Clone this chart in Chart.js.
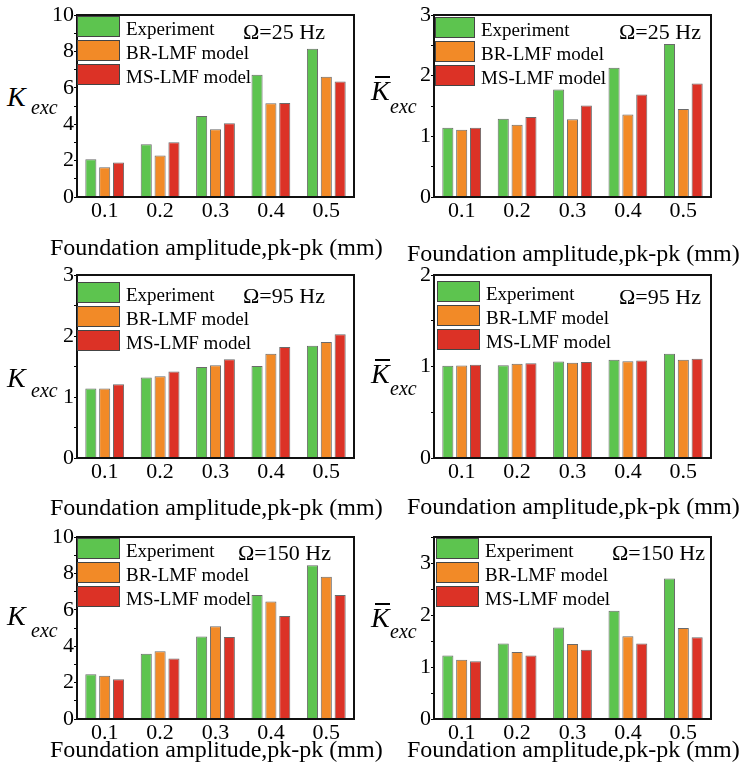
<!DOCTYPE html>
<html>
<head>
<meta charset="utf-8">
<script src="https://cdn.jsdelivr.net/npm/chart.js@4.4.1/dist/chart.umd.min.js"></script>
<style>
  html, body { margin: 0; padding: 0; background: #fff; }
  #figure { position: relative; width: 743px; height: 764px; overflow: hidden;
            font-family: 'Liberation Serif', 'Times New Roman', serif; color: #000; }
  .panel { position: absolute; }
  .lbl { position: absolute; line-height: 0; white-space: nowrap; }
  .xt { font-size: 24px; }
  .ky { font-size: 28px; font-style: italic; }
  .sub { font-size: 20px; font-style: italic; }
  .ovl { position: absolute; height: 1.5px; background: #000; }
</style>
</head>
<body>
<div id="figure"></div>
<script>
// amplitude groups on the x axis
const amplitudes = ['0.1', '0.2', '0.3', '0.4', '0.5'];
const seriesNames = ['Experiment', 'BR-LMF model', 'MS-LMF model'];

// K_exc and normalised K_exc, 25 Hz
const k25Exp = [2.08, 2.90, 4.45, 6.72, 8.14];
const k25BR = [1.64, 2.28, 3.72, 5.15, 6.61];
const k25MS = [1.90, 3.01, 4.05, 5.16, 6.35];
const kbar25Exp = [1.14, 1.29, 1.77, 2.13, 2.52];
const kbar25BR = [1.11, 1.19, 1.28, 1.36, 1.45];
const kbar25MS = [1.14, 1.32, 1.51, 1.69, 1.87];

// 95 Hz
const k95Exp = [1.14, 1.32, 1.49, 1.51, 1.84];
const k95BR = [1.14, 1.34, 1.52, 1.71, 1.90];
const k95MS = [1.21, 1.42, 1.62, 1.82, 2.03];
const kbar95Exp = [1.007, 1.015, 1.055, 1.073, 1.139];
const kbar95BR = [1.010, 1.030, 1.040, 1.058, 1.073];
const kbar95MS = [1.018, 1.036, 1.050, 1.066, 1.084];

// 150 Hz
const k150Exp = [2.46, 3.58, 4.53, 6.81, 8.45];
const k150BR = [2.37, 3.72, 5.09, 6.46, 7.81];
const k150MS = [2.19, 3.32, 4.51, 5.66, 6.82];
const kbar150Exp = [1.22, 1.45, 1.76, 2.08, 2.70];
const kbar150BR = [1.14, 1.29, 1.44, 1.59, 1.75];
const kbar150MS = [1.11, 1.22, 1.33, 1.45, 1.57];

const barColors = ['#5dc44f', '#f28a27', '#dc3226'];
const FONT = "'Liberation Serif', 'Times New Roman', serif";

// plot boxes are [left, top, right, bottom] in page pixels
const panels = [
  { series: [k25Exp, k25BR, k25MS], freq: 'Ω=25 Hz', box: [77, 15, 354, 197],
    yMax: 10, yStep: 1, yLabelStep: 2, legend: { x: 77, y: 16, w: 43 }, freqAt: [243, 39], bar: false },
  { series: [kbar25Exp, kbar25BR, kbar25MS], freq: 'Ω=25 Hz', box: [434, 15, 711, 197],
    yMax: 3, yStep: 0.5, yLabelStep: 1, legend: { x: 435, y: 17, w: 40 }, freqAt: [619, 39], bar: true },
  { series: [k95Exp, k95BR, k95MS], freq: 'Ω=95 Hz', box: [77, 275, 354, 458],
    yMax: 3, yStep: 0.5, yLabelStep: 1, legend: { x: 77, y: 282, w: 43 }, freqAt: [243, 303], bar: false },
  { series: [kbar95Exp, kbar95BR, kbar95MS], freq: 'Ω=95 Hz', box: [434, 275, 711, 458],
    yMax: 2, yStep: 0.5, yLabelStep: 1, legend: { x: 437, y: 281, w: 43 }, freqAt: [619, 304], bar: true },
  { series: [k150Exp, k150BR, k150MS], freq: 'Ω=150 Hz', box: [77, 537, 354, 719],
    yMax: 10, yStep: 1, yLabelStep: 2, legend: { x: 77, y: 538, w: 43 }, freqAt: [238, 560], bar: false },
  { series: [kbar150Exp, kbar150BR, kbar150MS], freq: 'Ω=150 Hz', box: [434, 537, 711, 719],
    yMax: 3.5, yStep: 0.5, yLabelStep: 1, legend: { x: 436, y: 538, w: 43 }, freqAt: [612, 560], bar: true }
];

// x-axis title baselines and y-axis symbol baselines, per panel
const xTitles = [[50, 255], [407, 261], [50, 515], [407, 514], [50, 757], [407, 757]];
const yTitles = [[7, 106, 31, 114], [371, 100, 390, 113], [7, 387, 31, 397],
                 [371, 383, 390, 395], [7, 625, 31, 637], [371, 627, 390, 638]];

const PAD_L = 50, PAD_T = 16, PAD_R = 10, PAD_B = 40;
const fig = document.getElementById('figure');

// black box around the plot area plus the legend swatches and frequency tag
const framePlugin = {
  id: 'frameAndKey',
  afterDraw(chart, args, opts) {
    const { ctx, chartArea: a } = chart;
    ctx.save();
    ctx.strokeStyle = '#111';
    ctx.lineWidth = 2;
    ctx.strokeRect(a.left, a.top, a.right - a.left, a.bottom - a.top);

    const lg = opts.legend;
    ctx.font = '19px ' + FONT;
    ctx.textBaseline = 'alphabetic';
    seriesNames.forEach((name, i) => {
      const x = lg.x - opts.ox, y = lg.y - opts.oy + i * 24;
      ctx.fillStyle = barColors[i];
      ctx.fillRect(x, y, lg.w, 21);
      ctx.strokeStyle = '#444';
      ctx.lineWidth = 1;
      ctx.strokeRect(x + 0.5, y + 0.5, lg.w - 1, 20);
      ctx.fillStyle = '#000';
      ctx.fillText(name, x + lg.w + 6, y + 19);
    });

    ctx.font = '22px ' + FONT;
    ctx.fillText(opts.freq, opts.freqAt[0] - opts.ox, opts.freqAt[1] - opts.oy);
    ctx.restore();
  }
};

function addLabel(html, cls, x, baseline, size) {
  const el = document.createElement('div');
  el.className = 'lbl ' + cls;
  el.innerHTML = html;
  el.style.left = x + 'px';
  el.style.top = (baseline - 0.3375 * size) + 'px';
  fig.appendChild(el);
  return el;
}

panels.forEach((p, idx) => {
  const [l, t, r, b] = p.box;
  const ox = l - PAD_L, oy = t - PAD_T;
  const w = (r - l) + PAD_L + PAD_R, h = (b - t) + PAD_T + PAD_B;

  const wrap = document.createElement('div');
  wrap.className = 'panel';
  wrap.style.left = ox + 'px';
  wrap.style.top = oy + 'px';
  const cv = document.createElement('canvas');
  cv.width = w; cv.height = h;
  cv.style.width = w + 'px'; cv.style.height = h + 'px';
  wrap.appendChild(cv);
  fig.appendChild(wrap);

  new Chart(cv, {
    type: 'bar',
    data: {
      labels: amplitudes,
      datasets: p.series.map((vals, i) => ({
        label: seriesNames[i],
        data: vals,
        backgroundColor: barColors[i],
        borderColor: '#6a6a6a',
        borderWidth: 1,
        categoryPercentage: 0.75,
        barPercentage: 0.8
      }))
    },
    options: {
      responsive: false,
      animation: false,
      devicePixelRatio: 1,
      layout: { padding: { left: 0, top: PAD_T, right: PAD_R, bottom: 0 } },
      plugins: {
        legend: { display: false },
        tooltip: { enabled: false },
        frameAndKey: { legend: p.legend, freq: p.freq, freqAt: p.freqAt, ox: ox, oy: oy }
      },
      scales: {
        x: {
          grid: { display: false, drawTicks: false },
          border: { display: false },
          ticks: { color: '#000', font: { family: FONT, size: 22 }, padding: 1, maxRotation: 0 },
          afterFit: s => { s.height = PAD_B; }
        },
        y: {
          min: 0,
          max: p.yMax,
          grid: { display: true, drawOnChartArea: false, drawTicks: true, tickLength: 3, color: '#000' },
          border: { display: false },
          ticks: {
            stepSize: p.yStep,
            autoSkip: false,
            padding: 0,
            color: '#000',
            font: { family: FONT, size: 22 },
            callback: v => (Math.abs(v / p.yLabelStep - Math.round(v / p.yLabelStep)) < 1e-6 ? String(v) : '')
          },
          afterFit: s => { s.width = PAD_L; }
        }
      }
    },
    plugins: [framePlugin]
  });

  // axis titles
  const [xx, xb] = xTitles[idx];
  addLabel('Foundation amplitude,pk-pk (mm)', 'xt', xx, xb, 24);
  const [kx, kb, sx, sb] = yTitles[idx];
  addLabel('K', 'ky', kx, kb, 28);
  addLabel('exc', 'sub', sx, sb, 20);
  if (p.bar) {
    const o = document.createElement('div');
    o.className = 'ovl';
    o.style.left = (kx + 4) + 'px';
    o.style.width = '15px';
    o.style.top = (kb - 24) + 'px';
    fig.appendChild(o);
  }
});
</script>
</body>
</html>
